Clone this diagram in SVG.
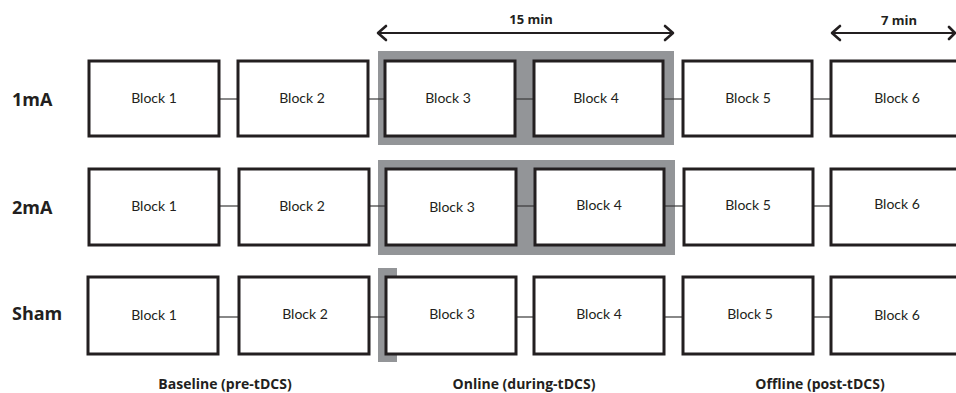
<svg xmlns="http://www.w3.org/2000/svg" width="956" height="393" viewBox="0 0 956 393">
<defs>
<style>
.box{fill:#fff;stroke:#231f20;stroke-width:3;}
.shade{fill:#939598;}
.link{stroke:#3a3a3a;stroke-width:1.2;fill:none;}
.arrow{stroke:#231f20;stroke-width:2;fill:none;}
.head{stroke:#231f20;stroke-width:2.6;fill:none;stroke-linecap:round;stroke-linejoin:round;}
.bt{font-family:Lato,"Open Sans","Liberation Sans",sans-serif;font-size:14px;fill:#231f20;text-anchor:middle;}
.rl{font-family:"Open Sans","Liberation Sans",sans-serif;font-weight:bold;font-size:18px;fill:#231f20;}
.lab{font-family:"Open Sans","Liberation Sans",sans-serif;font-weight:bold;font-size:13px;fill:#231f20;text-anchor:middle;}
.ph{font-size:14px;}
</style>
</defs>
<rect width="956" height="393" fill="#fff"/>
<g id="shading">
<rect class="shade" x="378" y="51" width="296" height="94"/>
<rect class="shade" x="378" y="160" width="297" height="95"/>
<rect class="shade" x="378" y="268" width="19" height="94"/>
</g>
<g id="connectors">
<line class="link" x1="219" y1="99" x2="238" y2="99"/>
<line class="link" x1="368" y1="99" x2="385" y2="99"/>
<line class="link" x1="515" y1="99" x2="534" y2="99"/>
<line class="link" x1="663" y1="99" x2="683" y2="99"/>
<line class="link" x1="812" y1="99" x2="831" y2="99"/>
<line class="link" x1="219" y1="206" x2="238" y2="206"/>
<line class="link" x1="368" y1="206" x2="385" y2="206"/>
<line class="link" x1="515" y1="206" x2="534" y2="206"/>
<line class="link" x1="663" y1="206" x2="683" y2="206"/>
<line class="link" x1="812" y1="206" x2="831" y2="206"/>
<line class="link" x1="219" y1="317" x2="238" y2="317"/>
<line class="link" x1="368" y1="317" x2="385" y2="317"/>
<line class="link" x1="515" y1="317" x2="534" y2="317"/>
<line class="link" x1="663" y1="317" x2="683" y2="317"/>
<line class="link" x1="812" y1="317" x2="831" y2="317"/>
</g>
<g id="row-1mA">
<text class="rl" x="12" y="106">1mA</text>
<g id="r1b1"><rect class="box" x="89" y="61" width="130" height="75"/><text class="bt" x="154" y="103">Block 1</text></g>
<g id="r1b2"><rect class="box" x="238" y="61" width="130" height="75"/><text class="bt" x="302" y="103">Block 2</text></g>
<g id="r1b3"><rect class="box" x="385" y="61" width="130" height="75"/><text class="bt" x="448" y="103">Block 3</text></g>
<g id="r1b4"><rect class="box" x="534" y="61" width="129" height="75"/><text class="bt" x="596" y="103">Block 4</text></g>
<g id="r1b5"><rect class="box" x="683" y="61" width="129" height="75"/><text class="bt" x="748" y="103">Block 5</text></g>
<g id="r1b6"><rect class="box" x="831" y="61" width="130" height="75"/><text class="bt" x="897" y="103">Block 6</text></g>
</g>
<g id="row-2mA">
<text class="rl" x="12" y="214">2mA</text>
<g id="r2b1"><rect class="box" x="89" y="169" width="130" height="76"/><text class="bt" x="154" y="211">Block 1</text></g>
<g id="r2b2"><rect class="box" x="239" y="169" width="130" height="76"/><text class="bt" x="302" y="211">Block 2</text></g>
<g id="r2b3"><rect class="box" x="386" y="169" width="130" height="76"/><text class="bt" x="452" y="212">Block 3</text></g>
<g id="r2b4"><rect class="box" x="535" y="169" width="129" height="76"/><text class="bt" x="599" y="210">Block 4</text></g>
<g id="r2b5"><rect class="box" x="684" y="169" width="129" height="76"/><text class="bt" x="748" y="210">Block 5</text></g>
<g id="r2b6"><rect class="box" x="831" y="169" width="130" height="76"/><text class="bt" x="897" y="209">Block 6</text></g>
</g>
<g id="row-Sham">
<text class="rl" x="12" y="320">Sham</text>
<g id="r3b1"><rect class="box" x="88" y="277" width="130" height="77"/><text class="bt" x="154" y="320">Block 1</text></g>
<g id="r3b2"><rect class="box" x="239" y="277" width="130" height="77"/><text class="bt" x="305" y="319">Block 2</text></g>
<g id="r3b3"><rect class="box" x="386" y="277" width="130" height="77"/><text class="bt" x="452" y="319">Block 3</text></g>
<g id="r3b4"><rect class="box" x="534" y="277" width="130" height="77"/><text class="bt" x="599" y="319">Block 4</text></g>
<g id="r3b5"><rect class="box" x="683" y="277" width="130" height="77"/><text class="bt" x="750" y="319">Block 5</text></g>
<g id="r3b6"><rect class="box" x="831" y="277" width="130" height="77"/><text class="bt" x="897" y="320">Block 6</text></g>
</g>
<g id="timing">
<line class="arrow" x1="379" y1="33" x2="672" y2="33"/>
<polyline class="head" points="386,26 378,33 386,40"/>
<polyline class="head" points="665,26 673,33 665,40"/>
<text class="lab" x="531" y="24">15  min</text>
<line class="arrow" x1="833" y1="33" x2="956" y2="33"/>
<polyline class="head" points="840,26 832,33 840,40"/>
<polyline class="head" points="949,27 955,33 949,39"/>
<text class="lab" x="899" y="25">7 min</text>
</g>
<g id="phases">
<text class="lab ph" x="225" y="389">Baseline (pre-tDCS)</text>
<text class="lab ph" x="524" y="389">Online (during-tDCS)</text>
<text class="lab ph" x="820" y="389">Offline (post-tDCS)</text>
</g>
</svg>
